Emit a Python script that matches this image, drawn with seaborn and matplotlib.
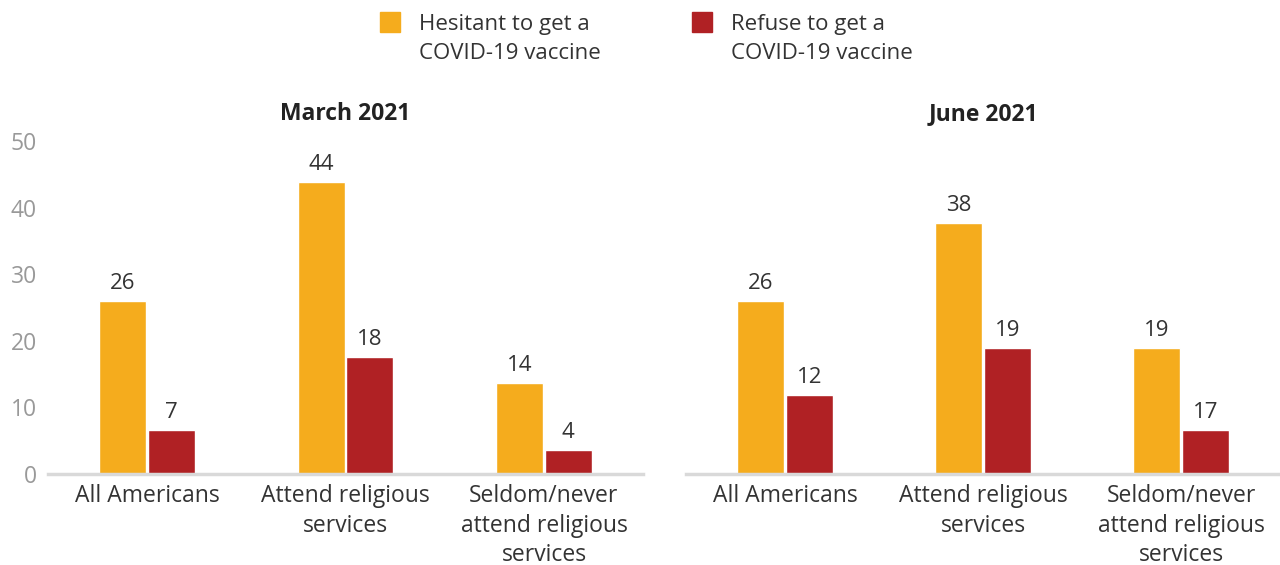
import pandas as pd
import matplotlib.pyplot as plt
import seaborn as sns
from matplotlib.lines import Line2D

# Data
groups = ['All Americans', 'Attend religious\nservices', 'Seldom/never\nattend religious\nservices']
periods = ['March 2021', 'June 2021']
series = ['Hesitant to get a\nCOVID-19 vaccine', 'Refuse to get a\nCOVID-19 vaccine']

march_hesitant = [26, 43.9, 13.7]
march_refuse = [6.6, 17.6, 3.6]
june_hesitant = [26, 37.7, 18.9]
june_refuse = [11.9, 18.9, 6.6]

march_hesitant_labels = ['26', '44', '14']
march_refuse_labels = ['7', '18', '4']
june_hesitant_labels = ['26', '38', '19']
june_refuse_labels = ['12', '19', '17']

colors = ['#F5AC1D', '#B02124']

sns.set_theme(style='white')
plt.rcParams['font.family'] = ['Open Sans', 'DejaVu Sans']

rows = []
for period, hes, ref in [(periods[0], march_hesitant, march_refuse),
                         (periods[1], june_hesitant, june_refuse)]:
    for g, h, r in zip(groups, hes, ref):
        rows.append({'period': period, 'group': g, 'series': series[0], 'value': h})
        rows.append({'period': period, 'group': g, 'series': series[1], 'value': r})
df = pd.DataFrame(rows)

labels = {
    periods[0]: (march_hesitant_labels, march_refuse_labels),
    periods[1]: (june_hesitant_labels, june_refuse_labels),
}

fig = plt.figure(figsize=(12.8, 5.65), dpi=100)
ax1 = fig.add_axes([0.0375, 0.161, 0.465, 0.589])
ax2 = fig.add_axes([0.536, 0.161, 0.464, 0.589])

for ax, period in zip([ax1, ax2], periods):
    d = df[df['period'] == period]
    sns.barplot(data=d, x='group', y='value', hue='series', order=groups,
                hue_order=series, palette=colors, width=0.49, gap=0.03,
                saturation=1, legend=False, ax=ax)
    hl, rl = labels[period]
    ax.bar_label(ax.containers[0], labels=hl, padding=5, fontsize=16, color='#333333')
    ax.bar_label(ax.containers[1], labels=rl, padding=5, fontsize=16, color='#333333')
    ax.set_ylim(0, 50)
    ax.set_xlim(-0.5, 2.5)
    ax.set_xlabel('')
    ax.set_ylabel('')
    ax.set_title(period, fontsize=16.5, fontweight='bold', color='#222222', pad=15)
    for s in ['top', 'right', 'left']:
        ax.spines[s].set_visible(False)
    ax.spines['bottom'].set_color('#d9d9d9')
    ax.spines['bottom'].set_linewidth(2.5)
    ax.tick_params(axis='x', length=0, labelsize=16.5, labelcolor='#333333', pad=7.5)
    ax.tick_params(axis='y', length=0, labelsize=16.5, labelcolor='#999999', pad=8)
    for t in ax.get_xticklabels():
        t.set_linespacing(1.3)

ax1.set_yticks([0, 10, 20, 30, 40, 50])
ax2.set_yticks([])

handles = [Line2D([0], [0], marker='s', linestyle='', markersize=14,
                  markerfacecolor=c, markeredgecolor=c) for c in colors]
leg = fig.legend(handles, series, loc='upper center', bbox_to_anchor=(0.5, 1.011),
                 ncol=2, frameon=False, fontsize=16, handletextpad=0.3,
                 columnspacing=3.55, labelcolor='#333333')
for t in leg.get_texts():
    t.set_linespacing(1.5)
for hp in leg._legend_handle_box.get_children():
    for row in hp.get_children():
        row.align = 'top'

fig.savefig('out.png', dpi=100)
